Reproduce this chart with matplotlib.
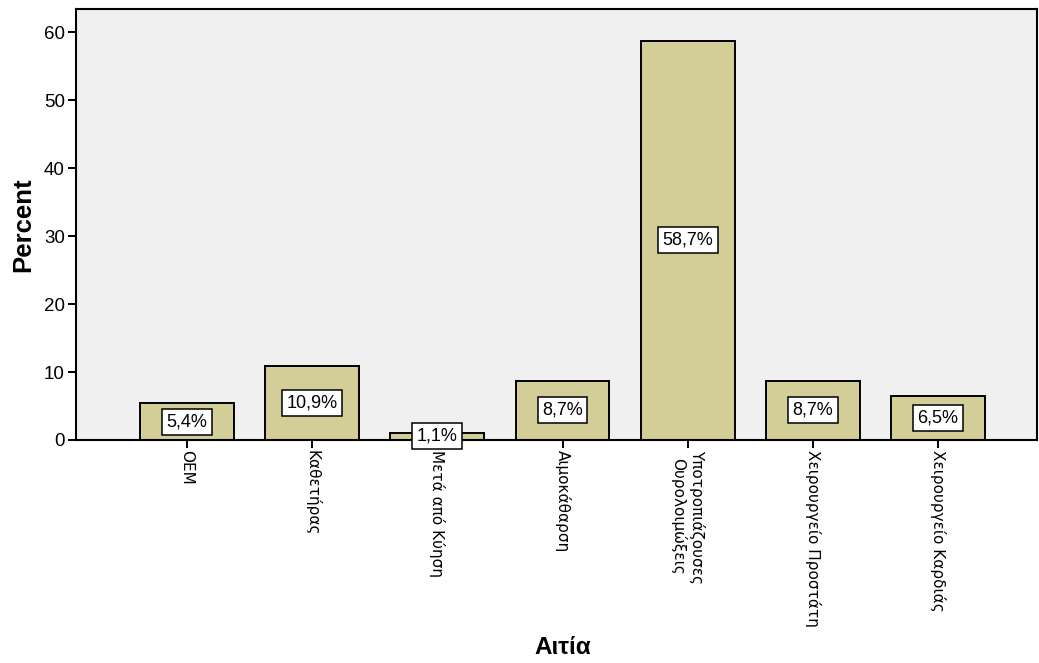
import matplotlib
matplotlib.use("Agg")
import matplotlib.pyplot as plt
import numpy as np

plt.rcParams['font.family'] = ['Liberation Sans', 'DejaVu Sans']

# causes and their share of cases (%)
causes = ["ΟΕΜ", "Καθετήρας", "Μετά από Κύηση", "Αιμοκάθαρση",
          "Υποτροπιάζουσες\nΟυρολοιμώξεις", "Χειρουργείο Προστάτη",
          "Χειρουργείο Καρδιάς"]
percent = [5.4, 10.9, 1.1, 8.7, 58.7, 8.7, 6.5]
value_labels = ["5,4%", "10,9%", "1,1%", "8,7%", "58,7%", "8,7%", "6,5%"]

fig = plt.figure(figsize=(10.39, 6.63), dpi=100)
ax = fig.add_axes([76 / 1039, 1 - 440 / 663, (1037 - 76) / 1039, (440 - 9) / 663])
ax.set_facecolor("#F0F0F0")

x = np.arange(len(causes))
bars = ax.bar(x, percent, width=0.75, color="#D3CE97", edgecolor="black", linewidth=1.4)

for xi, v, lab in zip(x, percent, value_labels):
    ax.text(xi, v / 2, lab, ha="center", va="center", fontsize=13,
            bbox=dict(boxstyle="square,pad=0.25", facecolor="white", edgecolor="black", linewidth=1.1))

ax.set_xlim(-0.886, 6.79)
ax.set_ylim(0, 63.4)
ax.set_yticks([0, 10, 20, 30, 40, 50, 60])
ax.set_xticks(x)
ax.set_xticklabels(causes, rotation=270, fontsize=11, va="top", ha="center", family=["DejaVu Sans"])
ax.tick_params(axis="both", direction="out", length=6, width=1.4, color="black")
ax.tick_params(axis="y", labelsize=13.5, pad=2)
ax.tick_params(axis="x", pad=1)

for s in ax.spines.values():
    s.set_linewidth(1.5)
    s.set_color("black")

ax.set_ylabel("Percent", fontsize=18.5, fontweight="bold", labelpad=6)
fig.text(563 / 1039, 1 - 648 / 663, "Αιτία", ha="center", va="center", fontsize=17.5, fontweight="bold")

fig.savefig("out.png", dpi=100)
